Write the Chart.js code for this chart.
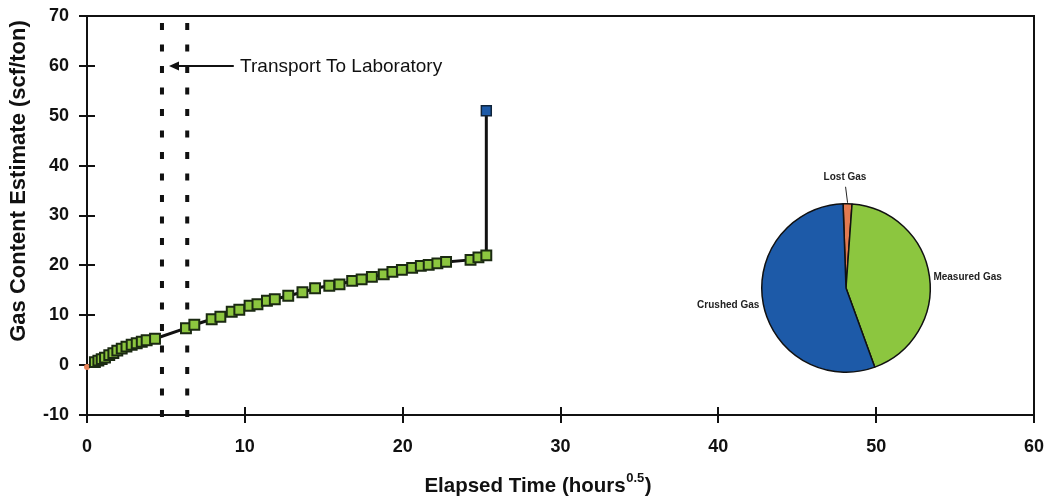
<!DOCTYPE html>
<html>
<head>
<meta charset="utf-8">
<script src="https://cdn.jsdelivr.net/npm/chart.js@4.4.1/dist/chart.umd.min.js"></script>
<style>
  html, body { margin: 0; padding: 0; background: #fff; }
  #wrap { position: relative; width: 1049px; height: 497px; background: #fff; }
  #main { position: absolute; left: 0; top: 0; }
  #pie { position: absolute; left: 686px; top: 160px; }
</style>
</head>
<body>
<div id="wrap">
  <canvas id="main" width="1049" height="497"></canvas>
  <canvas id="pie" width="320" height="256"></canvas>
</div>
<script>
// Desorption record: elapsed time (hours^0.5) vs. cumulative gas content (scf/ton)
const elapsedTime = [
  0.5, 0.72, 0.93, 1.14, 1.41, 1.67, 1.92, 2.2, 2.5, 2.83, 3.15, 3.47, 3.78, 4.31,
  6.27, 6.8, 7.9, 8.45, 9.17, 9.65, 10.3, 10.8, 11.4, 11.9, 12.75, 13.65, 14.45,
  15.35, 16.0, 16.8, 17.4, 18.05, 18.8, 19.35, 19.95, 20.6, 21.15, 21.65, 22.2,
  22.75, 24.3, 24.8, 25.3
];
const measuredGas = [
  0.6, 0.9, 1.2, 1.5, 2.0, 2.4, 2.9, 3.3, 3.7, 4.1, 4.4, 4.7, 5.0, 5.3,
  7.4, 8.1, 9.2, 9.7, 10.7, 11.1, 11.9, 12.2, 12.9, 13.2, 13.9, 14.6, 15.4,
  15.9, 16.2, 16.9, 17.2, 17.7, 18.2, 18.7, 19.1, 19.5, 19.9, 20.1, 20.4,
  20.7, 21.1, 21.6, 22.0
];
const lostTime = [0];
const lostGas = [-0.4];
const crushedTime = [25.3, 25.3];
const crushedGas = [22.0, 51.0];

// Transport window (dotted markers) and its annotation
const transportStart = 4.75;
const transportEnd = 6.35;
const transportLabel = 'Transport To Laboratory';
const transportLabelY = 60;

// Axis tick values
const xTicks = [0, 10, 20, 30, 40, 50, 60];
const yTicks = [-10, 0, 10, 20, 30, 40, 50, 60, 70];

// Gas content split
const pieLabels = ['Lost Gas', 'Measured Gas', 'Crushed Gas'];
const pieValues = [1.7, 43.3, 55.0];
const pieColors = ['#e27a50', '#8cc63f', '#1d5aa8'];

const FONT = "'Liberation Sans', Arial, Helvetica, sans-serif";
const INK = '#111';

const toPoints = (xs, ys) => xs.map((x, i) => ({ x, y: ys[i] }));

// Frame around the plot area plus tick marks that cross the axes
const framePlugin = {
  id: 'frame',
  beforeDatasetsDraw(chart) {
    const { ctx, chartArea: a, scales } = chart;
    ctx.save();
    ctx.strokeStyle = INK;
    ctx.lineWidth = 2;
    ctx.strokeRect(a.left, a.top, a.right - a.left, a.bottom - a.top);
    ctx.beginPath();
    xTicks.forEach(v => {
      const px = Math.round(scales.x.getPixelForValue(v));
      ctx.moveTo(px, a.bottom - 8);
      ctx.lineTo(px, a.bottom + 8);
    });
    yTicks.forEach(v => {
      const py = Math.round(scales.y.getPixelForValue(v));
      ctx.moveTo(a.left - 8, py);
      ctx.lineTo(a.left + 8, py);
    });
    ctx.stroke();
    ctx.restore();
  },
  afterDraw(chart) {
    const { ctx, scales } = chart;
    ctx.save();
    ctx.fillStyle = INK;
    // transport annotation arrow
    const yA = scales.y.getPixelForValue(transportLabelY);
    const tip = scales.x.getPixelForValue(transportStart) + 7;
    const tail = scales.x.getPixelForValue(9.3);
    ctx.strokeStyle = INK;
    ctx.lineWidth = 2;
    ctx.beginPath();
    ctx.moveTo(tail, yA);
    ctx.lineTo(tip + 6, yA);
    ctx.stroke();
    ctx.beginPath();
    ctx.moveTo(tip, yA);
    ctx.lineTo(tip + 10, yA - 4.5);
    ctx.lineTo(tip + 10, yA + 4.5);
    ctx.closePath();
    ctx.fill();
    ctx.font = '19px ' + FONT;
    ctx.textBaseline = 'middle';
    ctx.textAlign = 'left';
    ctx.fillText(transportLabel, scales.x.getPixelForValue(9.7), yA + 1);

    // x axis title with superscript exponent
    const big = 'bold 20.5px ' + FONT, small = 'bold 13px ' + FONT;
    const p1 = 'Elapsed Time (hours', p2 = '0.5', p3 = ')';
    ctx.font = big; const w1 = ctx.measureText(p1).width, w3 = ctx.measureText(p3).width;
    ctx.font = small; const w2 = ctx.measureText(p2).width;
    const x0 = 538 - (w1 + w2 + w3 + 1) / 2;
    const base = 492;
    ctx.textBaseline = 'alphabetic';
    ctx.font = big; ctx.fillText(p1, x0, base);
    ctx.font = small; ctx.fillText(p2, x0 + w1 + 0.5, base - 10);
    ctx.font = big; ctx.fillText(p3, x0 + w1 + w2 + 1, base);

    // y axis title
    ctx.translate(19, 181);
    ctx.rotate(-Math.PI / 2);
    ctx.textAlign = 'center';
    ctx.textBaseline = 'middle';
    ctx.font = 'bold 22px ' + FONT;
    ctx.fillText('Gas Content Estimate (scf/ton)', 0, 0);
    ctx.restore();
  }
};

const tickFont = { family: FONT, size: 18, weight: 'bold' };

new Chart(document.getElementById('main'), {
  type: 'scatter',
  data: {
    datasets: [
      {
        label: 'Transport start',
        data: [{ x: transportStart, y: 68.6 }, { x: transportStart, y: -12 }],
        showLine: true, borderColor: INK, borderWidth: 4, borderDash: [7, 14.5],
        pointRadius: 0, clip: false, order: 5
      },
      {
        label: 'Transport end',
        data: [{ x: transportEnd, y: 68.6 }, { x: transportEnd, y: -12 }],
        showLine: true, borderColor: INK, borderWidth: 4, borderDash: [7, 14.5],
        pointRadius: 0, clip: false, order: 5
      },
      {
        label: 'Lost Gas',
        data: toPoints(lostTime, lostGas),
        pointStyle: 'circle', pointRadius: 3,
        pointBackgroundColor: '#e8845a', pointBorderColor: '#e8845a', pointBorderWidth: 0,
        clip: false, order: 4
      },
      {
        label: 'Crushed Gas',
        data: toPoints(crushedTime, crushedGas),
        showLine: true, borderColor: INK, borderWidth: 3,
        pointStyle: 'rect', pointRadius: [0, 7],
        pointBackgroundColor: '#1d5aa8', pointBorderColor: '#10243a', pointBorderWidth: 1.5,
        order: 2
      },
      {
        label: 'Measured Gas',
        data: toPoints(elapsedTime, measuredGas),
        showLine: true, borderColor: INK, borderWidth: 3,
        pointStyle: 'rect', pointRadius: 7,
        pointBackgroundColor: '#8cc63f', pointBorderColor: '#1b2a12', pointBorderWidth: 2,
        order: 1
      }
    ]
  },
  options: {
    responsive: false,
    animation: false,
    events: [],
    layout: { padding: { left: 0, right: 15, top: 16, bottom: 0 } },
    plugins: { legend: { display: false }, tooltip: { enabled: false } },
    scales: {
      x: {
        type: 'linear', min: 0, max: 60,
        afterFit: s => { s.height = 82; s.paddingLeft = 0; s.paddingRight = 0; },
        afterBuildTicks: s => { s.ticks = xTicks.map(v => ({ value: v })); },
        grid: { drawOnChartArea: false, drawTicks: true, tickLength: 8, color: 'rgba(0,0,0,0)' },
        border: { display: false },
        ticks: { font: tickFont, color: INK, padding: 13, maxRotation: 0 }
      },
      y: {
        type: 'linear', min: -10, max: 70,
        afterFit: s => { s.width = 87; s.paddingTop = 0; s.paddingBottom = 0; },
        afterBuildTicks: s => { s.ticks = yTicks.map(v => ({ value: v })); },
        grid: { drawOnChartArea: false, drawTicks: true, tickLength: 8, color: 'rgba(0,0,0,0)' },
        border: { display: false },
        ticks: { font: tickFont, color: INK, padding: 10 }
      }
    }
  },
  plugins: [framePlugin]
});

// Slice captions placed around the pie
const pieLabelPlugin = {
  id: 'pieLabels',
  afterDraw(chart) {
    const { ctx } = chart;
    const arcs = chart.getDatasetMeta(0).data;
    ctx.save();
    ctx.fillStyle = '#222';
    ctx.strokeStyle = '#222';
    ctx.font = 'bold 10px ' + FONT;
    arcs.forEach((arc, i) => {
      const { x, y, startAngle, endAngle, outerRadius } = arc.getProps(['x', 'y', 'startAngle', 'endAngle', 'outerRadius'], true);
      const mid = (startAngle + endAngle) / 2;
      const cos = Math.cos(mid), sin = Math.sin(mid);
      const label = pieLabels[i];
      if (i === 0) {
        ctx.lineWidth = 1;
        ctx.beginPath();
        ctx.moveTo(x + cos * (outerRadius + 1), y + sin * (outerRadius + 1));
        ctx.lineTo(x + cos * (outerRadius + 1) - 2, y + sin * (outerRadius + 17));
        ctx.stroke();
        ctx.textAlign = 'center';
        ctx.textBaseline = 'middle';
        ctx.fillText(label, x - 1, y - outerRadius - 27);
      } else {
        const r = outerRadius + 3;
        ctx.textAlign = cos >= 0 ? 'left' : 'right';
        ctx.textBaseline = 'middle';
        ctx.fillText(label, x + cos * r + (cos >= 0 ? 1 : -1), y + sin * r + 1);
      }
    });
    ctx.restore();
  }
};

new Chart(document.getElementById('pie'), {
  type: 'pie',
  data: {
    labels: pieLabels,
    datasets: [{
      data: pieValues,
      backgroundColor: pieColors,
      borderColor: '#111',
      borderWidth: 1.5
    }]
  },
  options: {
    responsive: false,
    animation: false,
    events: [],
    rotation: -2,
    layout: { padding: { left: 75, right: 75, top: 43, bottom: 43 } },
    plugins: { legend: { display: false }, tooltip: { enabled: false } }
  },
  plugins: [pieLabelPlugin]
});
</script>
</body>
</html>
